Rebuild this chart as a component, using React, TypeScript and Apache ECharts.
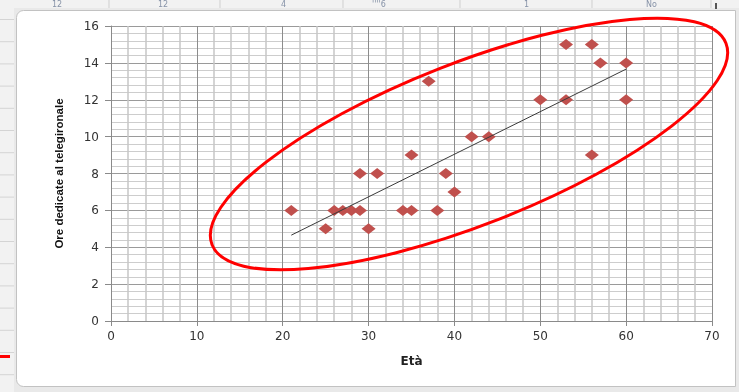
import React, { useEffect, useRef } from "react";
import * as echarts from "echarts";

// Età (years) and ore dedicate al telegiornale (hours) per person
const ages = [21, 25, 26, 27, 28, 29, 29, 30, 31, 34, 35, 35, 37, 38, 39, 40, 42, 44, 50, 53, 53, 56, 56, 57, 60, 60];
const hours = [6, 5, 6, 6, 6, 6, 8, 5, 8, 6, 6, 9, 13, 6, 8, 7, 10, 10, 12, 12, 15, 15, 9, 14, 14, 12];

const xAxisTitle = "Età";
const yAxisTitle = "Ore dedicate al telegironale";

// partially visible spreadsheet column contents behind the chart
const sheetLabels = ["12", "12", "4", "''''6", "1", "No"];

function linearFit(xs: number[], ys: number[]) {
  const n = xs.length;
  let sx = 0, sy = 0, sxx = 0, sxy = 0;
  for (let i = 0; i < n; i++) {
    sx += xs[i]; sy += ys[i]; sxx += xs[i] * xs[i]; sxy += xs[i] * ys[i];
  }
  const slope = (n * sxy - sx * sy) / (n * sxx - sx * sx);
  const intercept = (sy - slope * sx) / n;
  return { slope, intercept };
}

export default function App() {
  const ref = useRef<HTMLDivElement>(null);
  useEffect(() => {
    if (!ref.current) return;
    const chart = echarts.init(ref.current, null, { renderer: "svg" });
    const points = ages.map((a, i) => [a, hours[i]]);
    const { slope, intercept } = linearFit(ages, hours);
    const xMin = Math.min(...ages);
    const xMax = Math.max(...ages);
    const trend = [
      [xMin, intercept + slope * xMin],
      [xMax, intercept + slope * xMax],
    ];

    const sheetX = [52, 158, 281, 372, 524, 646];
    const sheetCols = [109, 220, 343, 460, 592, 711];
    const rowLines: any[] = [];
    for (let k = 0; k < 18; k++) {
      const y = 19.5 + 22.2 * k;
      rowLines.push({
        type: "line", z: -9, silent: true,
        shape: { x1: 0, y1: y, x2: 14, y2: y },
        style: { stroke: "#d4d4d4", lineWidth: 1 },
      });
    }
    const colLines = sheetCols.map((x) => ({
      type: "line", z: -9, silent: true,
      shape: { x1: x, y1: 0, x2: x, y2: 8 },
      style: { stroke: "#cfcfcf", lineWidth: 1 },
    }));

    chart.setOption({
      animation: false,
      backgroundColor: "transparent",
      grid: { left: 111, top: 26, width: 601, height: 295, containLabel: false },
      xAxis: {
        type: "value", min: 0, max: 70, interval: 10,
        name: xAxisTitle, nameLocation: "middle", nameGap: 34,
        nameTextStyle: { fontFamily: "DejaVu Sans", fontSize: 12, fontWeight: "bold", color: "#222" },
        axisLine: { show: true, lineStyle: { color: "#8a8a8a", width: 1 } },
        axisTick: { show: true, length: 5, lineStyle: { color: "#8a8a8a" } },
        axisLabel: { fontFamily: "DejaVu Sans", fontSize: 12, color: "#333", margin: 9 },
        splitLine: { show: true, lineStyle: { color: "#8c8c8c", width: 1 } },
        minorTick: { show: false, splitNumber: 5 },
        minorSplitLine: { show: true, lineStyle: { color: "#c6c6c6", width: 1.5 } },
      },
      yAxis: {
        type: "value", min: 0, max: 16, interval: 2,
        name: yAxisTitle, nameLocation: "middle", nameGap: 46, nameRotate: 90,
        nameTextStyle: { fontFamily: "Liberation Sans", fontSize: 11.5, fontWeight: "bold", color: "#111" },
        axisLine: { show: true, lineStyle: { color: "#8a8a8a", width: 1 } },
        axisTick: { show: true, length: 6, lineStyle: { color: "#8a8a8a" } },
        axisLabel: { fontFamily: "DejaVu Sans", fontSize: 12, color: "#333", margin: 12 },
        splitLine: { show: true, lineStyle: { color: "#9a9a9a", width: 1 } },
        minorTick: { show: false, splitNumber: 5 },
        minorSplitLine: { show: true, lineStyle: { color: "#cdcdcd", width: 1.2 } },
      },
      series: [
        {
          type: "scatter",
          data: points,
          symbol: "diamond",
          symbolSize: [14, 11],
          itemStyle: { color: "#c0504d", opacity: 1 },
          z: 2,
        },
        {
          type: "line",
          data: trend,
          symbol: "none",
          lineStyle: { color: "#3a3a3a", width: 1 },
          z: 3,
        },
      ],
      graphic: [
        { type: "rect", z: -10, silent: true, shape: { x: 0, y: 0, width: 739, height: 392 }, style: { fill: "#f2f2f2" } },
        ...rowLines,
        ...colLines,
        { type: "rect", z: -7, silent: true, shape: { x: 14, y: 8, width: 725, height: 384 }, style: { fill: "#e9e9e9" } },
        ...sheetLabels.map((t, i) => ({
          type: "text", z: -5, silent: true, x: sheetX[i], y: 0,
          style: { text: t, fill: "#8793a8", fontSize: 8, fontFamily: "DejaVu Sans" },
        })),
        {
          type: "rect", z: -6, silent: true,
          shape: { x: 16.5, y: 10.5, width: 719, height: 376, r: [7, 0, 0, 7] },
          style: { fill: "#ffffff", stroke: "#c2c2c2", lineWidth: 1 },
        },
        { type: "rect", z: -5, silent: true, shape: { x: 715, y: 3, width: 2, height: 6 }, style: { fill: "#555" } },
        { type: "rect", z: 20, silent: true, shape: { x: 0, y: 355, width: 10, height: 3 }, style: { fill: "#ff0000" } },
        {
          type: "ellipse", z: 20, silent: true,
          x: 469, y: 144, rotation: (21.4 * Math.PI) / 180,
          shape: { cx: 0, cy: 0, rx: 276, ry: 81 },
          style: { fill: "none", stroke: "#ff0000", lineWidth: 3 },
        },
      ],
    });
    return () => chart.dispose();
  }, []);
  return (
    <div
      ref={ref}
      style={{ position: "fixed", left: 0, top: 0, width: 739, height: 392 }}
    />
  );
}
